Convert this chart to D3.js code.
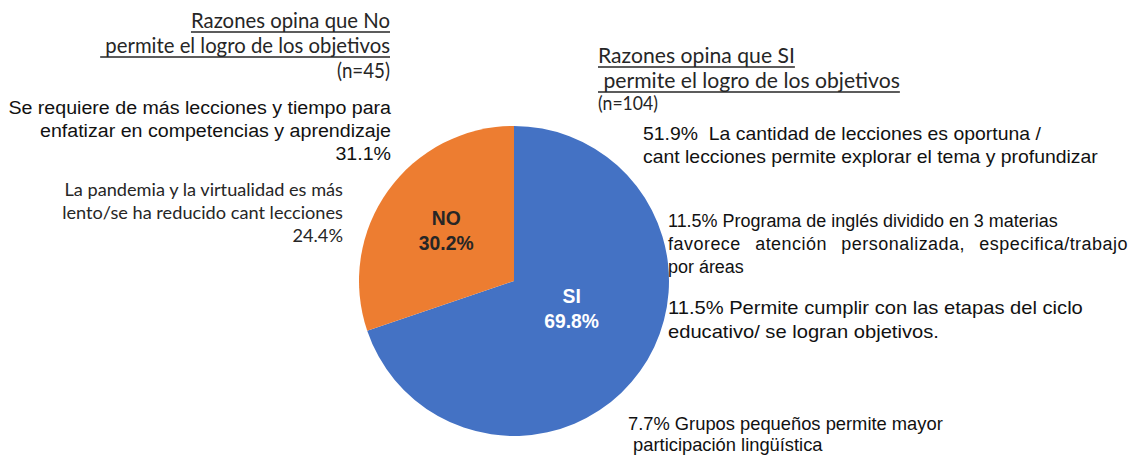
<!DOCTYPE html>
<html>
<head>
<meta charset="utf-8">
<script src="https://cdn.jsdelivr.net/npm/d3@7"></script>
<style>
  body { margin: 0; background: #fff; }
  svg { display: block; }
  text { white-space: pre; }
</style>
</head>
<body>
<svg id="chart"></svg>
<script>
// data
const categories = ["SI", "NO"];
const shares = [69.8, 30.2];
const colors = ["#4472C4", "#ED7D31"];

const noTitle = ["Razones opina que No", " permite el logro de los objetivos"];
const noCount = "(n=45)";
const noReasons = [
  ["Se requiere de más lecciones y tiempo para", "enfatizar en competencias y aprendizaje", "31.1%"],
  ["La pandemia y la virtualidad es más", "lento/se ha reducido cant lecciones", "24.4%"]
];

const siTitle = ["Razones opina que SI", " permite el logro de los objetivos"];
const siCount = "(n=104)";
const siReasons = [
  ["51.9%  La cantidad de lecciones es oportuna /", "cant lecciones permite explorar el tema y profundizar"],
  ["11.5% Programa de inglés dividido en 3 materias", "favorece atención personalizada, especifica/trabajo", "por áreas"],
  ["11.5% Permite cumplir con las etapas del ciclo", "educativo/ se logran objetivos."],
  ["7.7% Grupos pequeños permite mayor", " participación lingüística"]
];

const width = 1130, height = 463;
const svg = d3.select("#chart").attr("width", width).attr("height", height);

const arial = "'Liberation Sans', Arial, sans-serif";
const calibri = "Lato, 'Open Sans', sans-serif";

// pie
const cx = 514, cy = 281, radius = 155;
const pie = d3.pie().sort(null).value(d => d);
const arcs = pie(shares);
const arc = d3.arc().innerRadius(0).outerRadius(radius);

const g = svg.append("g").attr("transform", `translate(${cx},${cy})`);
g.selectAll("path")
  .data(arcs)
  .join("path")
  .attr("d", arc)
  .attr("fill", (d, i) => colors[i]);

const labelR = [0.41, 0.53];
const labelShift = [[6, -12], [-1, -5]];
g.selectAll("text.slice")
  .data(arcs)
  .join("text")
  .attr("class", "slice")
  .attr("transform", (d, i) => {
    const a = d3.arc().innerRadius(radius * labelR[i]).outerRadius(radius * labelR[i]);
    const [x, y] = a.centroid(d);
    return `translate(${x + labelShift[i][0]},${y + labelShift[i][1]}) scale(0.92,1)`;
  })
  .attr("text-anchor", "middle")
  .attr("font-family", arial)
  .attr("font-weight", "bold")
  .attr("font-size", 21)
  .attr("fill", (d, i) => i === 0 ? "#fff" : "#262626")
  .each(function(d, i) {
    const t = d3.select(this);
    t.append("tspan").attr("x", 0).attr("dy", "-0.15em").text(categories[i]);
    t.append("tspan").attr("x", 0).attr("dy", "1.2em").text(d3.format(".1f")(shares[i]) + "%");
  });

// text block: font size from cap height, horizontal squeeze to fit a line width,
// optional lines widened (justified in the original)
function block(lines, opt) {
  const t = svg.append("text")
    .attr("font-family", opt.font)
    .attr("font-size", opt.size)
    .attr("fill", opt.color || "#262626")
    .attr("text-anchor", opt.anchor || "start");
  lines.forEach((s, i) => {
    t.append("tspan").attr("x", opt.x).attr("y", opt.y + i * opt.lh).text(s);
  });
  let sx = 1;
  const spans = t.selectAll("tspan").nodes();
  if (opt.fitWidth) {
    sx = opt.fitWidth / spans[opt.fitLine || 0].getComputedTextLength();
    t.attr("transform", `translate(${opt.x},0) scale(${sx},1) translate(${-opt.x},0)`);
  }
  if (opt.stretch) {
    Object.entries(opt.stretch).forEach(([i, w]) => {
      const span = d3.select(spans[+i]).attr("letter-spacing", 0.5 / sx);
      const gaps = (lines[+i].trim().match(/ /g) || []).length;
      const extra = (w / sx - spans[+i].getComputedTextLength()) / gaps;
      span.attr("word-spacing", Math.max(0, extra));
    });
  }
  if (opt.underline) {
    t.selectAll("tspan").each(function() {
      const b = this.getBBox();
      const y = +d3.select(this).attr("y") + 4;
      const x1 = opt.x + (b.x - opt.x) * sx;
      svg.append("line")
        .attr("x1", x1).attr("x2", x1 + b.width * sx)
        .attr("y1", y).attr("y2", y)
        .attr("stroke", "#262626").attr("stroke-width", 1.4);
    });
  }
  return t;
}

// left side
block(noTitle, { x: 390, y: 28, lh: 25, font: calibri, size: 21, anchor: "end", fitWidth: 290, fitLine: 1, underline: true });
block([noCount], { x: 390, y: 78, lh: 0, font: calibri, size: 21, anchor: "end", fitWidth: 53 });
block(noReasons[0], { x: 391, y: 114, lh: 23, font: arial, size: 19, anchor: "end", fitWidth: 383, fitLine: 0, color: "#111" });
block(noReasons[1], { x: 343, y: 196, lh: 23, font: calibri, size: 17, anchor: "end", fitWidth: 281, fitLine: 1 });

// right side
block(siTitle, { x: 598, y: 63, lh: 25, font: calibri, size: 21, fitWidth: 302, fitLine: 1, underline: true });
block([siCount], { x: 598, y: 110, lh: 0, font: calibri, size: 19, fitWidth: 60 });
block(siReasons[0], { x: 643, y: 140, lh: 23, font: arial, size: 18, fitWidth: 398, fitLine: 0, color: "#111" });
block(siReasons[1], { x: 668, y: 227, lh: 23, font: arial, size: 19, fitWidth: 390, fitLine: 0, color: "#111", stretch: { 1: 460 } });
block(siReasons[2], { x: 668, y: 314, lh: 24, font: arial, size: 18, fitWidth: 415, fitLine: 0, color: "#111" });
block(siReasons[3], { x: 628, y: 430, lh: 21, font: arial, size: 18, fitWidth: 315, fitLine: 0, color: "#111" });
</script>
</body>
</html>
